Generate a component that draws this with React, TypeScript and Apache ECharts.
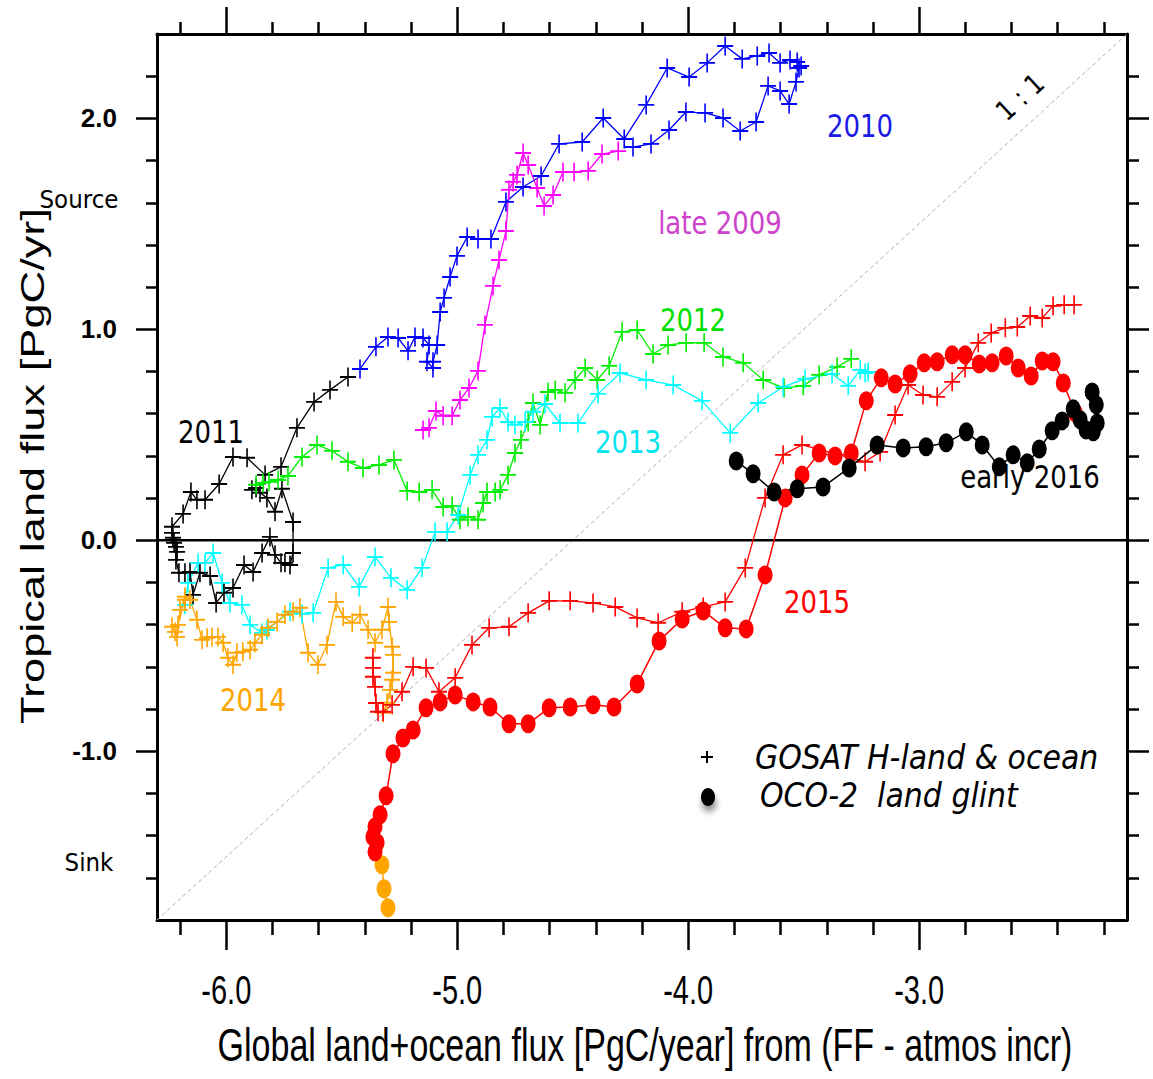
import React, { useEffect, useRef } from "react";
import * as echarts from "echarts";

// Axis extents (PgC/yr)
const X_MIN = -6.3;
const X_MAX = -2.1;
const Y_MIN = -1.8;
const Y_MAX = 2.4;

const xMajorTicks = [-6, -5, -4, -3];
const xMinorTicks = [-6.2, -5.8, -5.6, -5.4, -5.2, -4.8, -4.6, -4.4, -4.2, -3.8, -3.6, -3.4, -3.2, -2.8, -2.6, -2.4, -2.2];
const yMajorTicks = [-1, 0, 1, 2];
const yMinorTicks = [-1.6, -1.4, -1.2, -0.8, -0.6, -0.4, -0.2, 0.2, 0.4, 0.6, 0.8, 1.2, 1.4, 1.6, 1.8, 2.2];

// GOSAT H-land & ocean trajectories: [global land+ocean flux, tropical land flux]
const gosatLate2009 = [
  [-5.148, 0.523], [-5.122, 0.533], [-5.092, 0.613], [-5.061, 0.59], [-5.022, 0.59], [-4.988, 0.665],
  [-4.949, 0.722], [-4.91, 0.803], [-4.88, 1.021], [-4.845, 1.206], [-4.819, 1.329], [-4.789, 1.466],
  [-4.776, 1.661], [-4.758, 1.699], [-4.741, 1.732], [-4.715, 1.836], [-4.693, 1.779], [-4.654, 1.67],
  [-4.624, 1.585], [-4.585, 1.637], [-4.542, 1.746], [-4.494, 1.746], [-4.433, 1.751], [-4.373, 1.831],
  [-4.303, 1.845],
];

const gosat2010 = [
  [-4.239, 1.864], [-4.161, 1.879], [-4.083, 1.945], [-4.01, 2.03], [-3.927, 2.026], [-3.849, 2.002],
  [-3.775, 1.94], [-3.706, 1.983], [-3.654, 2.154], [-3.602, 2.13], [-3.563, 2.068], [-3.533, 2.173],
  [-3.52, 2.239], [-3.511, 2.248], [-3.528, 2.267], [-3.559, 2.277], [-3.602, 2.263], [-3.65, 2.31],
  [-3.701, 2.296], [-3.766, 2.282], [-3.84, 2.343], [-3.918, 2.263], [-3.996, 2.196], [-4.091, 2.239],
  [-4.182, 2.064], [-4.277, 1.902], [-4.368, 2.002], [-4.459, 1.888], [-4.559, 1.879], [-4.637, 1.727],
  [-4.715, 1.675], [-4.789, 1.604], [-4.854, 1.428], [-4.91, 1.428], [-4.957, 1.438], [-5.001, 1.348],
  [-5.031, 1.248], [-5.057, 1.149], [-5.074, 1.082], [-5.087, 0.926], [-5.105, 0.846], [-5.105, 0.817],
  [-5.131, 0.846], [-5.122, 0.926], [-5.148, 0.959], [-5.183, 0.964], [-5.213, 0.898], [-5.256, 0.959],
  [-5.3, 0.964], [-5.352, 0.917], [-5.421, 0.812],
];

const gosat2011 = [
  [-5.473, 0.774], [-5.551, 0.713], [-5.62, 0.656], [-5.694, 0.533], [-5.763, 0.348], [-5.832, 0.31],
  [-5.91, 0.391], [-5.971, 0.395], [-6.031, 0.267], [-6.092, 0.192], [-6.127, 0.192], [-6.153, 0.229],
  [-6.187, 0.125], [-6.235, 0.064], [-6.235, 0.035], [-6.231, 0.012], [-6.226, -0.012], [-6.218, -0.031],
  [-6.213, -0.055], [-6.218, -0.093], [-6.205, -0.154], [-6.179, -0.154], [-6.157, -0.15], [-6.144, -0.259],
  [-6.114, -0.154], [-6.07, -0.169], [-6.044, -0.297], [-6.01, -0.249], [-5.971, -0.226], [-5.923, -0.117],
  [-5.884, -0.15], [-5.845, -0.06], [-5.811, 0.016], [-5.789, -0.069], [-5.763, -0.107], [-5.746, -0.107],
  [-5.724, -0.117], [-5.711, -0.06], [-5.711, 0.087], [-5.759, 0.244], [-5.789, 0.135], [-5.824, 0.201],
  [-5.854, 0.225], [-5.871, 0.248], [-5.889, 0.239],
];

const gosat2012 = [
  [-5.871, 0.263], [-5.841, 0.272], [-5.815, 0.277], [-5.776, 0.286], [-5.733, 0.305], [-5.672, 0.395],
  [-5.607, 0.452], [-5.542, 0.424], [-5.473, 0.372], [-5.408, 0.343], [-5.339, 0.357], [-5.274, 0.381],
  [-5.217, 0.234], [-5.165, 0.229], [-5.109, 0.239], [-5.061, 0.158], [-5.022, 0.163], [-4.988, 0.097],
  [-4.953, 0.111], [-4.91, 0.097], [-4.888, 0.177], [-4.871, 0.229], [-4.836, 0.229], [-4.814, 0.239],
  [-4.78, 0.31], [-4.75, 0.414], [-4.724, 0.476], [-4.693, 0.561], [-4.672, 0.651], [-4.641, 0.547],
  [-4.607, 0.703], [-4.576, 0.713], [-4.533, 0.699], [-4.49, 0.76], [-4.446, 0.817], [-4.394, 0.76],
  [-4.342, 0.827], [-4.286, 0.988], [-4.221, 0.997], [-4.152, 0.883], [-4.087, 0.926], [-4.009, 0.936],
  [-3.931, 0.936], [-3.849, 0.869], [-3.762, 0.841], [-3.675, 0.76], [-3.585, 0.722], [-3.502, 0.732],
  [-3.433, 0.784], [-3.355, 0.822], [-3.294, 0.86],
];

const gosat2013 = [
  [-3.221, 0.798], [-3.234, 0.793], [-3.255, 0.808], [-3.307, 0.732], [-3.377, 0.789], [-3.494, 0.765],
  [-3.589, 0.727], [-3.697, 0.651], [-3.818, 0.509], [-3.94, 0.661], [-4.065, 0.736], [-4.182, 0.76],
  [-4.295, 0.793], [-4.39, 0.694], [-4.477, 0.556], [-4.555, 0.556], [-4.62, 0.646], [-4.672, 0.609],
  [-4.706, 0.561], [-4.75, 0.547], [-4.78, 0.561], [-4.815, 0.627], [-4.849, 0.585], [-4.871, 0.476],
  [-4.91, 0.405], [-4.944, 0.31], [-4.996, 0.12], [-5.044, 0.04], [-5.096, 0.04], [-5.152, -0.131],
  [-5.217, -0.235], [-5.287, -0.178], [-5.356, -0.079], [-5.425, -0.221], [-5.494, -0.117], [-5.559, -0.131],
  [-5.624, -0.344], [-5.672, -0.349], [-5.724, -0.339], [-5.824, -0.425], [-5.845, -0.439], [-5.897, -0.401],
  [-5.932, -0.306], [-5.984, -0.297], [-6.018, -0.202], [-6.057, -0.06], [-6.092, -0.107], [-6.122, -0.107],
  [-6.166, -0.202], [-6.179, -0.306],
];

const gosat2014 = [
  [-6.179, -0.282], [-6.209, -0.401], [-6.235, -0.41], [-6.222, -0.434], [-6.213, -0.458], [-6.2, -0.33],
  [-6.179, -0.268], [-6.157, -0.282], [-6.127, -0.377], [-6.105, -0.472], [-6.083, -0.462], [-6.062, -0.458],
  [-6.036, -0.458], [-6.014, -0.486], [-5.993, -0.557], [-5.971, -0.59], [-5.954, -0.533], [-5.928, -0.528],
  [-5.897, -0.519], [-5.876, -0.486], [-5.845, -0.448], [-5.819, -0.415], [-5.78, -0.387], [-5.746, -0.353],
  [-5.711, -0.339], [-5.681, -0.32], [-5.646, -0.533], [-5.603, -0.59], [-5.564, -0.496], [-5.525, -0.292],
  [-5.494, -0.363], [-5.455, -0.391], [-5.421, -0.353], [-5.386, -0.424], [-5.356, -0.486], [-5.326, -0.424],
  [-5.3, -0.316], [-5.295, -0.387], [-5.282, -0.505], [-5.278, -0.543], [-5.278, -0.628], [-5.282, -0.661],
  [-5.291, -0.709], [-5.304, -0.77], [-5.321, -0.818],
];

const gosat2015 = [
  [-5.365, -0.557], [-5.365, -0.605], [-5.365, -0.647], [-5.356, -0.695], [-5.352, -0.771], [-5.343, -0.813],
  [-5.321, -0.813], [-5.282, -0.78], [-5.239, -0.718], [-5.191, -0.6], [-5.135, -0.605], [-5.079, -0.718],
  [-5.009, -0.652], [-4.936, -0.496], [-4.862, -0.415], [-4.776, -0.41], [-4.693, -0.344], [-4.602, -0.287],
  [-4.511, -0.287], [-4.412, -0.297], [-4.316, -0.316], [-4.221, -0.368], [-4.13, -0.391], [-4.026, -0.339],
  [-3.935, -0.316], [-3.84, -0.292], [-3.753, -0.131], [-3.667, 0.201], [-3.589, 0.405], [-3.507, 0.452],
  [-3.234, 0.372], [-3.169, 0.419], [-3.104, 0.594], [-3.048, 0.736], [-2.983, 0.689], [-2.922, 0.68],
  [-2.857, 0.751], [-2.801, 0.817], [-2.744, 0.936], [-2.688, 0.983], [-2.627, 1.007], [-2.575, 1.011],
  [-2.519, 1.063], [-2.467, 1.054], [-2.42, 1.111], [-2.372, 1.116], [-2.329, 1.116],
];

// OCO-2 land glint trajectories
const oco2Late2014 = [[-5.3, -1.742], [-5.317, -1.652], [-5.326, -1.538]];

const oco22015 = [
  [-5.356, -1.477], [-5.347, -1.434], [-5.365, -1.406], [-5.356, -1.358], [-5.334, -1.301], [-5.308, -1.211],
  [-5.278, -1.012], [-5.235, -0.937], [-5.191, -0.899], [-5.135, -0.794], [-5.074, -0.766], [-5.009, -0.733],
  [-4.931, -0.766], [-4.858, -0.79], [-4.776, -0.87], [-4.693, -0.87], [-4.602, -0.794], [-4.511, -0.79],
  [-4.412, -0.78], [-4.321, -0.79], [-4.221, -0.681], [-4.126, -0.477], [-4.026, -0.373], [-3.935, -0.335],
  [-3.84, -0.415], [-3.749, -0.42], [-3.667, -0.164], [-3.58, 0.201], [-3.507, 0.31], [-3.433, 0.414],
  [-3.364, 0.4], [-3.294, 0.414], [-3.229, 0.661], [-3.164, 0.77], [-3.104, 0.741], [-3.039, 0.789],
  [-2.978, 0.841], [-2.922, 0.846], [-2.857, 0.879], [-2.801, 0.879], [-2.74, 0.836], [-2.684, 0.841],
  [-2.623, 0.874], [-2.571, 0.817], [-2.515, 0.779], [-2.467, 0.85], [-2.42, 0.846], [-2.376, 0.746],
  [-2.324, 0.604],
];

const oco2Early2016 = [
  [-2.251, 0.703], [-2.233, 0.642], [-2.229, 0.556], [-2.246, 0.514], [-2.277, 0.523], [-2.303, 0.571],
  [-2.333, 0.623], [-2.381, 0.566], [-2.424, 0.519], [-2.48, 0.433], [-2.532, 0.367], [-2.593, 0.405],
  [-2.653, 0.348], [-2.727, 0.452], [-2.796, 0.514], [-2.883, 0.462], [-2.97, 0.443], [-3.069, 0.438],
  [-3.182, 0.452], [-3.303, 0.343], [-3.416, 0.253], [-3.528, 0.244], [-3.628, 0.229], [-3.719, 0.315],
  [-3.792, 0.376],
];

const oneToOne = [[X_MIN, X_MIN + 4.5], [X_MAX, X_MAX + 4.5]];
const zeroLine = [[X_MIN, 0], [X_MAX, 0]];

const PLUS = "path://M-1,-10H1V-1H10V1H1V10H-1V1H-10V-1H-1Z";
const DOT = "path://M0,-10A10,10,0,1,1,0,10A10,10,0,1,1,0,-10Z";

const gosatSeries = (name: string, data: number[][], color: string) => ({
  name,
  type: "line",
  data,
  symbol: PLUS,
  symbolSize: [16, 19],
  showSymbol: true,
  lineStyle: { color, width: 1.3 },
  itemStyle: { color },
  z: 3,
  silent: true,
});

const ocoSeries = (name: string, data: number[][], color: string) => ({
  name,
  type: "line",
  data,
  symbol: DOT,
  symbolSize: [15, 19],
  showSymbol: true,
  lineStyle: { color, width: 1.5 },
  itemStyle: { color },
  z: 4,
  silent: true,
});

const tickAxis = (
  position: string,
  values: number[],
  length: number,
  withLine: boolean,
  min: number,
  max: number,
  label?: any
) => ({
  type: "value",
  position,
  min,
  max,
  axisLine: { show: withLine, onZero: false, lineStyle: { color: "#000", width: 3 } },
  axisTick: {
    show: true,
    inside: false,
    customValues: values,
    length,
    lineStyle: { color: "#000", width: 2.5 },
  },
  axisLabel: label ? { customValues: values, ...label } : { show: false },
  splitLine: { show: false },
});

const fmt = (v: number) => v.toFixed(1);

const txt = (
  text: string,
  x: number,
  y: number,
  size: number,
  fill: string,
  extra: any = {},
  family = '"DejaVu Sans", sans-serif'
) => ({
  type: "text",
  x,
  y,
  scaleY: extra.scaleY ?? 1.25,
  scaleX: extra.scaleX ?? 1,
  rotation: extra.rotation ?? 0,
  silent: true,
  z: 10,
  style: {
    text,
    fill,
    fontSize: size,
    fontFamily: family,
    fontStyle: extra.italic ? "italic" : "normal",
    fontWeight: extra.bold ? "bold" : "normal",
    align: extra.align ?? "center",
    verticalAlign: "middle",
  },
});

const SANS = '"Liberation Sans", Arial, sans-serif';

export default function App() {
  const ref = useRef<HTMLDivElement>(null);

  useEffect(() => {
    if (!ref.current) return;
    const chart = echarts.init(ref.current, null, { renderer: "svg" });

    const yLabel = {
      formatter: fmt,
      margin: 40,
      color: "#000",
      fontSize: 26,
      fontWeight: "bold",
      fontFamily: SANS,
    };

    const baseGraphic = [
      txt("2010", 860, 126, 26, "#1a1ae6"),
      txt("late 2009", 720, 223, 26, "#cc44cc"),
      txt("2012", 693, 320, 26, "#00e000"),
      txt("2013", 628, 442, 26, "#00e5ee"),
      txt("2011", 211, 432, 26, "#000"),
      txt("2014", 253, 700, 26, "#ffa500"),
      txt("2015", 817, 602, 26, "#ff0000"),
      txt("early 2016", 1030, 477, 26, "#000"),
      txt("1 : 1", 1020, 97, 24, "#000", { rotation: 0.74, scaleY: 1.15 }),
      txt("Source", 79, 200, 23, "#000", { scaleY: 1.1 }),
      txt("Sink", 89, 863, 23, "#000", { scaleY: 1.1 }),
      // legend
      {
        type: "line",
        silent: true,
        shape: { x1: 701, y1: 757, x2: 713, y2: 757 },
        style: { stroke: "#000", lineWidth: 2 },
      },
      {
        type: "line",
        silent: true,
        shape: { x1: 707, y1: 751, x2: 707, y2: 763 },
        style: { stroke: "#000", lineWidth: 2 },
      },
      {
        type: "ellipse",
        silent: true,
        shape: { cx: 708, cy: 797, rx: 7, ry: 9 },
        style: {
          fill: "#000",
          shadowBlur: 6,
          shadowOffsetX: 1,
          shadowOffsetY: 6,
          shadowColor: "rgba(0,0,0,0.45)",
        },
      },
      txt("GOSAT H-land & ocean", 755, 757, 30, "#000", { italic: true, align: "left", scaleY: 1.15 }),
      txt("OCO-2  land glint", 760, 795, 30, "#000", { italic: true, align: "left", scaleY: 1.15 }),
      // axis titles
      txt("Global land+ocean flux [PgC/year] from (FF - atmos incr)", 645, 1045, 34, "#000", { scaleY: 1.37 }, SANS),
      txt("Tropical land flux [PgC/yr]", 32, 466, 34, "#000", { rotation: Math.PI / 2, scaleX: 1.33, scaleY: 1 }, SANS),
    ];

    chart.setOption({
      animation: false,
      backgroundColor: "#fff",
      grid: { left: 157, right: 26, top: 34, bottom: 159, containLabel: false },
      xAxis: [
        tickAxis("bottom", xMajorTicks, 30, true, X_MIN, X_MAX),
        tickAxis("bottom", xMinorTicks, 15, false, X_MIN, X_MAX),
        tickAxis("top", xMajorTicks, 27, true, X_MIN, X_MAX),
        tickAxis("top", xMinorTicks, 12, false, X_MIN, X_MAX),
      ],
      yAxis: [
        tickAxis("left", yMajorTicks, 21, true, Y_MIN, Y_MAX, yLabel),
        tickAxis("left", yMinorTicks, 11, false, Y_MIN, Y_MAX),
        tickAxis("right", yMajorTicks, 22, true, Y_MIN, Y_MAX),
        tickAxis("right", yMinorTicks, 12, false, Y_MIN, Y_MAX),
      ],
      series: [
        {
          name: "1:1",
          type: "line",
          data: oneToOne,
          symbol: "none",
          lineStyle: { color: "#b0b0b0", width: 1, type: [4, 3] },
          z: 1,
          silent: true,
        },
        {
          name: "zero",
          type: "line",
          data: zeroLine,
          symbol: "none",
          lineStyle: { color: "#000", width: 2.5 },
          z: 2,
          silent: true,
        },
        gosatSeries("late 2009", gosatLate2009, "#ff00ff"),
        gosatSeries("2010", gosat2010, "#0000ff"),
        gosatSeries("2011", gosat2011, "#000000"),
        gosatSeries("2012", gosat2012, "#00ee00"),
        gosatSeries("2013", gosat2013, "#00ffff"),
        gosatSeries("2014", gosat2014, "#ffa500"),
        gosatSeries("2015", gosat2015, "#ff0000"),
        ocoSeries("OCO-2 2014", oco2Late2014, "#ffa500"),
        ocoSeries("OCO-2 2015", oco22015, "#ff0000"),
        ocoSeries("OCO-2 early 2016", oco2Early2016, "#000000"),
      ],
      graphic: baseGraphic,
    });

    // x tick labels, placed through the x axis scale and drawn tall like the rest of the lettering
    const axisBottom = chart.convertToPixel({ yAxisIndex: 0 }, Y_MIN) as number;
    const xTickLabels = xMajorTicks.map((v) =>
      txt(fmt(v), chart.convertToPixel({ xAxisIndex: 0 }, v) as number, axisBottom + 70, 29, "#000", { scaleY: 1.37 }, SANS)
    );
    chart.setOption({ graphic: [...baseGraphic, ...xTickLabels] });

    return () => chart.dispose();
  }, []);

  return (
    <div
      ref={ref}
      style={{ position: "absolute", left: 0, top: 0, width: 1153, height: 1079, background: "#fff" }}
    />
  );
}
